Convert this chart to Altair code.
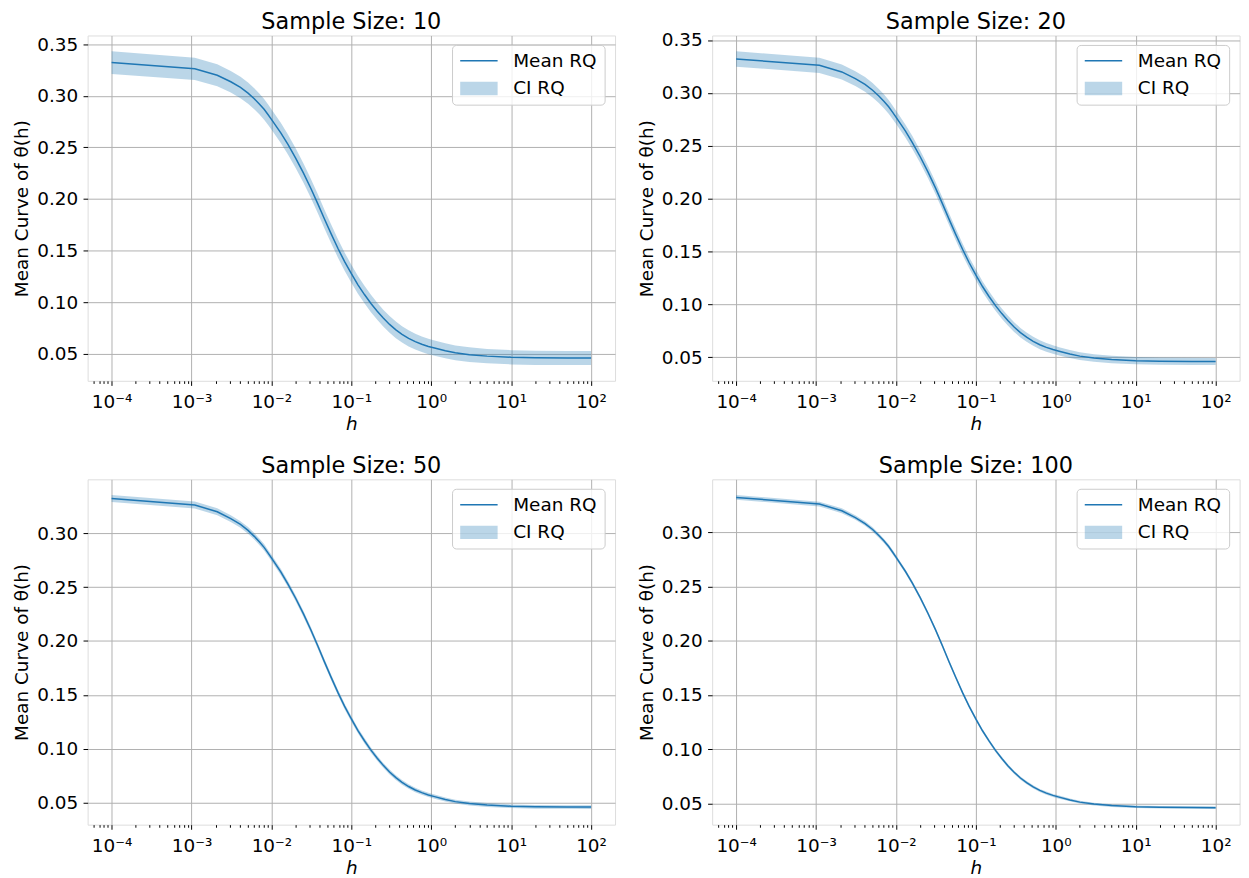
import altair as alt
import pandas as pd
import math

# ---------------- data ----------------
H = [0.0001, 0.0011, 0.0021, 0.0031, 0.0041, 0.0051, 0.0061, 0.0071, 0.0081,
     0.0091, 0.0101, 0.0131, 0.0161, 0.0201, 0.0251, 0.0311, 0.0381, 0.0461,
     0.0561, 0.0681, 0.0821, 0.1001, 0.121, 0.146, 0.176, 0.211, 0.251, 0.301,
     0.361, 0.431, 0.521, 0.631, 0.761, 0.921, 1.1, 1.5, 2.0, 3.0, 5.0, 10.0,
     20.0, 50.0, 100.0]
MEAN = [0.3321, 0.3260, 0.3198, 0.3135, 0.3080, 0.3025, 0.2970, 0.2918, 0.2868,
        0.2815, 0.2766, 0.2640, 0.2528, 0.2396, 0.2253, 0.2104, 0.1953, 0.1806,
        0.1660, 0.1521, 0.1396, 0.1277, 0.1169, 0.1075, 0.0988, 0.0913, 0.0847,
        0.0786, 0.0733, 0.0690, 0.0651, 0.0619, 0.0594, 0.0573, 0.0557, 0.0531,
        0.0511, 0.0493, 0.0479, 0.0468, 0.0463, 0.0461, 0.0460]
CI10 = [0.0110, 0.0108, 0.0106, 0.0105, 0.0104, 0.0103, 0.0102, 0.0101, 0.0100,
        0.0099, 0.0098, 0.0097, 0.0096, 0.0095, 0.0094, 0.0093, 0.0092, 0.0091,
        0.0090, 0.0089, 0.0088, 0.0087, 0.0086, 0.0085, 0.0084, 0.0083, 0.0082,
        0.0081, 0.0080, 0.0079, 0.0078, 0.0077, 0.0076, 0.0075, 0.0074, 0.0073,
        0.0072, 0.0071, 0.0070, 0.0069, 0.0069, 0.0068, 0.0068]
CI20 = [0.0073, 0.0072, 0.0071, 0.0070, 0.0069, 0.0068, 0.0067, 0.0066, 0.0065,
        0.0064, 0.0063, 0.0062, 0.0061, 0.0060, 0.0059, 0.0058, 0.0057, 0.0056,
        0.0055, 0.0054, 0.0053, 0.0052, 0.0051, 0.0050, 0.0049, 0.0048, 0.0047,
        0.0046, 0.0045, 0.0044, 0.0043, 0.0042, 0.0041, 0.0040, 0.0039, 0.0038,
        0.0037, 0.0036, 0.0035, 0.0035, 0.0034, 0.0034, 0.0034]
CI50 = [0.0032, 0.0032, 0.0032, 0.0031, 0.0031, 0.0031, 0.0030, 0.0030, 0.0030,
        0.0029, 0.0029, 0.0029, 0.0028, 0.0028, 0.0028, 0.0027, 0.0027, 0.0027,
        0.0026, 0.0026, 0.0026, 0.0025, 0.0025, 0.0025, 0.0024, 0.0024, 0.0023,
        0.0023, 0.0022, 0.0022, 0.0021, 0.0021, 0.0020, 0.0020, 0.0019, 0.0019,
        0.0018, 0.0018, 0.0018, 0.0017, 0.0017, 0.0017, 0.0017]
CI100 = [0.0022, 0.0022, 0.0022, 0.0021, 0.0021, 0.0021, 0.0021, 0.0020, 0.0020,
         0.0020, 0.0020, 0.0019, 0.0019, 0.0019, 0.0019, 0.0018, 0.0018, 0.0018,
         0.0018, 0.0017, 0.0017, 0.0017, 0.0017, 0.0016, 0.0016, 0.0016, 0.0016,
         0.0015, 0.0015, 0.0015, 0.0015, 0.0014, 0.0014, 0.0014, 0.0014, 0.0013,
         0.0013, 0.0013, 0.0013, 0.0012, 0.0012, 0.0012, 0.0012]
SAMPLE_SIZES = [10, 20, 50, 100]
CIS = [CI10, CI20, CI50, CI100]
LEGEND_LABELS = ["Mean RQ", "CI RQ"]
X_MAJOR = [1e-4, 1e-3, 1e-2, 1e-1, 1e0, 1e1, 1e2]
Y_TICKS = [0.05, 0.10, 0.15, 0.20, 0.25, 0.30, 0.35]

# ---------------- styling ----------------
BLUE = "#1f77b4"
FONT = "DejaVu Sans"
W, HGT = 530, 347
X_DOMAIN = [10 ** -4.3, 10 ** 2.3]
X_MINOR = [m * 10.0 ** k for k in range(-5, 3) for m in range(2, 10)
           if X_DOMAIN[0] <= m * 10.0 ** k <= X_DOMAIN[1]]

SUP = {"-": "\u207b", "0": "\u2070", "1": "\u00b9", "2": "\u00b2", "3": "\u00b3",
       "4": "\u2074", "5": "\u2075", "6": "\u2076", "7": "\u2077", "8": "\u2078", "9": "\u2079"}


def sup(n):
    return "".join(SUP[c] for c in str(n))


LOGV = "log(datum.value)/LN10"
MAJOR_TEST = f"abs({LOGV} - round({LOGV})) < 1e-6"
label_expr = "''"
for v in reversed(X_MAJOR):
    e = int(round(math.log10(v)))
    label_expr = f"(round({LOGV}) == {e} && {MAJOR_TEST}) ? '10{sup(e)}' : ({label_expr})"


def panel(n, ci):
    lo = [m - c for m, c in zip(MEAN, ci)]
    hi = [m + c for m, c in zip(MEAN, ci)]
    df = pd.DataFrame({"h": H, "mean": MEAN, "lo": lo, "hi": hi})
    r = max(hi) - min(lo)
    ydom = [min(lo) - 0.05 * r, max(hi) + 0.05 * r]

    xscale = alt.Scale(type="log", domain=X_DOMAIN, nice=False)
    yscale = alt.Scale(domain=ydom, nice=False, zero=False)
    y_vals = [t for t in Y_TICKS if ydom[0] <= t <= ydom[1]]

    xaxis = alt.Axis(
        values=X_MAJOR + X_MINOR, labelExpr=label_expr, labelOverlap=False,
        labelFlush=False, labelFont=FONT, labelFontSize=18.5, labelColor="black",
        labelPadding=7, labelBaseline="top",
        tickColor="black", tickWidth=1,
        tickSize={"condition": {"test": MAJOR_TEST, "value": 4.6}, "value": 2.6},
        gridColor="#b0b0b0", gridWidth=1,
        gridOpacity={"condition": {"test": MAJOR_TEST, "value": 1}, "value": 0},
        domain=False, title="h", titleFont=FONT, titleFontSize=18.5,
        titleFontStyle="italic", titleFontWeight="normal", titleColor="black",
        titlePadding=3.5,
    )
    yaxis = alt.Axis(
        values=y_vals, format=".2f", labelFont=FONT, labelFontSize=18.5,
        labelColor="black", labelPadding=5.4, tickSize=4.6, tickColor="black",
        tickWidth=1, gridColor="#b0b0b0", gridWidth=1, domain=False,
        labelFlush=False,
        title="Mean Curve of θ(h)", titleFont=FONT, titleFontSize=18.5,
        titleFontWeight="normal", titleColor="black", titlePadding=5.2,
    )

    band = alt.Chart(df).mark_area(color=BLUE, opacity=0.3).encode(
        x=alt.X("h:Q", scale=xscale, axis=xaxis),
        y=alt.Y("lo:Q", scale=yscale, axis=yaxis),
        y2="hi:Q",
    )
    line = alt.Chart(df).mark_line(color=BLUE, strokeWidth=1.5).encode(
        x="h:Q", y="mean:Q"
    )

    one = alt.Data(values=[{"k": 0}])
    title = alt.Chart(one).mark_text(
        text=f"Sample Size: {n}", font=FONT, fontSize=22.5, align="center",
        baseline="top", color="black"
    ).encode(x=alt.value(W / 2), y=alt.value(-24.8))
    box = alt.Chart(one).mark_rect(
        fill="white", fillOpacity=0.8, stroke="#cccccc", strokeWidth=1, cornerRadius=4
    ).encode(x=alt.value(366.7), x2=alt.value(520), y=alt.value(10), y2=alt.value(70))
    leg_line = alt.Chart(one).mark_rule(color=BLUE, strokeWidth=1.5).encode(
        x=alt.value(374.4), x2=alt.value(412), y=alt.value(25.5)
    )
    leg_patch = alt.Chart(one).mark_rect(color=BLUE, opacity=0.3).encode(
        x=alt.value(374.4), x2=alt.value(412), y=alt.value(46.6), y2=alt.value(60)
    )
    leg_t1 = alt.Chart(one).mark_text(
        text=LEGEND_LABELS[0], font=FONT, fontSize=18.5, align="left",
        baseline="alphabetic", color="black"
    ).encode(x=alt.value(427.7), y=alt.value(32))
    leg_t2 = alt.Chart(one).mark_text(
        text=LEGEND_LABELS[1], font=FONT, fontSize=18.5, align="left",
        baseline="alphabetic", color="black"
    ).encode(x=alt.value(427.7), y=alt.value(59.3))

    return alt.layer(band, line, box, leg_line, leg_patch, leg_t1, leg_t2, title).properties(
        width=W, height=HGT,
    )


panels = [panel(n, ci) for n, ci in zip(SAMPLE_SIZES, CIS)]
chart = alt.concat(
    *panels, columns=2, spacing={"row": 99, "column": 97.6}, bounds="flush",
).properties(
    padding={"left": 4, "top": -0.5, "right": 0, "bottom": 0}
).configure_view(stroke="black", strokeWidth=1).configure(background="white")

chart.save("out.html", embed_options={"renderer": "svg", "actions": False})
